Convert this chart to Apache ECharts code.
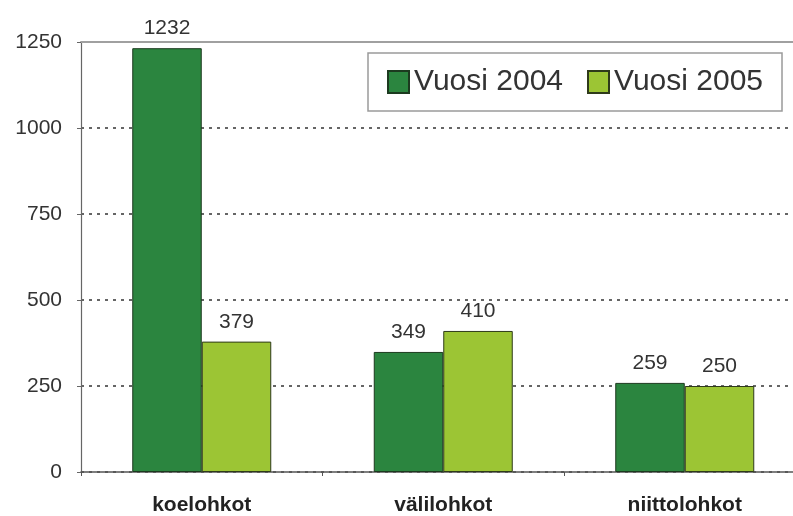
<!DOCTYPE html>
<html><head><meta charset="utf-8">
<script src="https://cdn.jsdelivr.net/npm/echarts@6/dist/echarts.min.js"></script>
<style>html,body{margin:0;padding:0;background:#fff}#c{width:793px;height:516px}</style>
</head><body><div id="c"></div>
<script>
const categories = ['koelohkot', 'välilohkot', 'niittolohkot'];
const seriesNames = ['Vuosi 2004', 'Vuosi 2005'];
const values2004 = [1232, 349, 259];
const values2005 = [379, 410, 250];
const yTicks = [0, 250, 500, 750, 1000, 1250];

const FONT = 'Liberation Sans, Arial, sans-serif';
const chart = echarts.init(document.getElementById('c'), null, {renderer: 'canvas'});
chart.setOption({
  backgroundColor: '#ffffff',
  animation: false,
  textStyle: {fontFamily: FONT},
  grid: {left: 81, top: 42, bottom: 44, width: 724.5, containLabel: false, outerBoundsMode: 'none'},
  legend: {
    left: 368, top: 53,
    padding: [14, 19, 14, 19],
    borderColor: '#9a9a9a', borderWidth: 1.5,
    backgroundColor: '#fff',
    icon: 'rect', itemWidth: 21, itemHeight: 22, itemGap: 24,
    textStyle: {fontSize: 30, color: '#333', fontFamily: FONT},
    data: seriesNames
  },
  xAxis: [{
    type: 'category', data: categories,
    axisLine: {lineStyle: {color: '#555', width: 1.5}},
    axisTick: {show: true, length: 4, lineStyle: {color: '#555'}},
    axisLabel: {fontSize: 21, fontWeight: 'bold', color: '#222', margin: 23, fontFamily: FONT}
  }, {
    type: 'category', data: categories, position: 'top',
    axisLine: {show: true, lineStyle: {color: '#a0a0a0', width: 2}},
    axisTick: {show: false}, axisLabel: {show: false}
  }],
  yAxis: {
    type: 'value', min: yTicks[0], max: yTicks[yTicks.length - 1], interval: 250,
    axisLine: {show: true, lineStyle: {color: '#666', width: 1.2}},
    axisTick: {show: true, length: 4, lineStyle: {color: '#666'}},
    axisLabel: {fontSize: 21, color: '#333', margin: 19, fontFamily: FONT, formatter: v => String(v)},
    splitLine: {show: true, lineStyle: {color: '#333', type: [3, 5], width: 1.5}}
  },
  series: [{
    name: seriesNames[0], type: 'bar', data: values2004,
    barWidth: 69.5, barGap: '0%',
    itemStyle: {color: '#2b853f', borderColor: '#1c3a1f', borderWidth: 1},
    label: {show: true, position: 'top', distance: 9, fontSize: 21, color: '#333', fontFamily: FONT}
  }, {
    name: seriesNames[1], type: 'bar', data: values2005,
    barWidth: 69.5, barGap: '0%',
    itemStyle: {color: '#9cc534', borderColor: '#2e3a1a', borderWidth: 1},
    label: {show: true, position: 'top', distance: 9, fontSize: 21, color: '#333', fontFamily: FONT}
  }]
});
</script></body></html>
